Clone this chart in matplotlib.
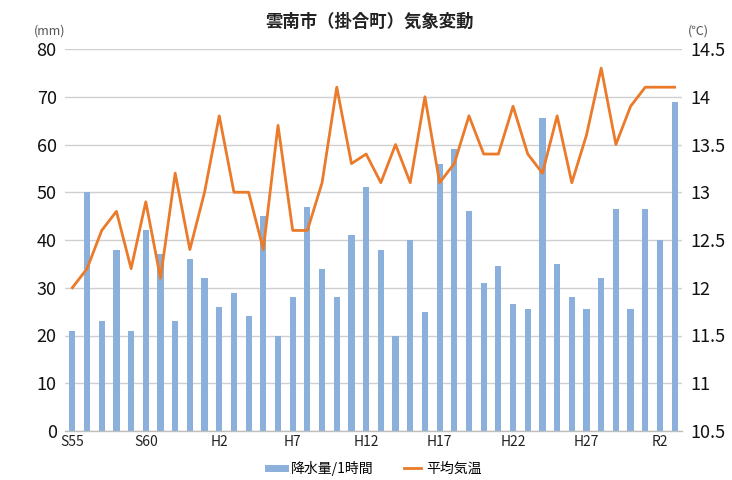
import matplotlib
matplotlib.use("Agg")
import matplotlib.pyplot as plt
from matplotlib.lines import Line2D

plt.rcParams['font.family'] = ['Noto Sans CJK JP', 'DejaVu Sans']

categories = ['S55', 'S56', 'S57', 'S58', 'S59', 'S60', 'S61', 'S62', 'S63', 'H1',
              'H2', 'H3', 'H4', 'H5', 'H6', 'H7', 'H8', 'H9', 'H10', 'H11',
              'H12', 'H13', 'H14', 'H15', 'H16', 'H17', 'H18', 'H19', 'H20', 'H21',
              'H22', 'H23', 'H24', 'H25', 'H26', 'H27', 'H28', 'H29', 'H30', 'R1',
              'R2', 'R3']
tick_labels = ['S55', 'S60', 'H2', 'H7', 'H12', 'H17', 'H22', 'H27', 'R2']

rain = [21, 50, 23, 38, 21, 42, 37, 23, 36, 32,
        26, 29, 24, 45, 20, 28, 47, 34, 28, 41,
        51, 38, 20, 40, 25, 56, 59, 46, 31, 34.5,
        26.5, 25.5, 65.5, 35, 28, 25.5, 32, 46.5, 25.5, 46.5,
        40, 69]
temp = [12.0, 12.2, 12.6, 12.8, 12.2, 12.9, 12.1, 13.2, 12.4, 13.0,
        13.8, 13.0, 13.0, 12.4, 13.7, 12.6, 12.6, 13.1, 14.1, 13.3,
        13.4, 13.1, 13.5, 13.1, 14.0, 13.1, 13.3, 13.8, 13.4, 13.4,
        13.9, 13.4, 13.2, 13.8, 13.1, 13.6, 14.3, 13.5, 13.9, 14.1,
        14.1, 14.1]

bar_color = '#8AB0DB'
line_color = '#EB7A2A'
grid_color = '#D0D0D0'

fig = plt.figure(figsize=(7.32, 4.8), dpi=100)
fig.patch.set_facecolor('white')
W, H = 732, 480
ax = fig.add_axes([65 / W, (H - 431) / H, 617 / W, 382 / H])

x = list(range(len(categories)))
ax.bar(x, rain, width=0.42, color=bar_color, zorder=2)
ax.set_xlim(-0.5, len(categories) - 0.5)
ax.set_ylim(0, 80)
ax.set_yticks(range(0, 81, 10))
ax.grid(axis='y', color=grid_color, linewidth=1, zorder=0)
ax.set_axisbelow(True)
for s in ['top', 'right', 'left']:
    ax.spines[s].set_visible(False)
ax.spines['bottom'].set_color('#BFBFBF')
ax.spines['bottom'].set_linewidth(1)

ax.set_xticks([categories.index(t) for t in tick_labels])
ax.set_xticklabels(tick_labels, fontsize=10, color='#222222')
ax.tick_params(axis='x', length=0, pad=3)
ax.tick_params(axis='y', length=0, pad=6, labelsize=13, labelcolor='#111111')

ax2 = ax.twinx()
ax2.plot(x, temp, color=line_color, linewidth=2.0, zorder=3)
ax2.set_ylim(10.5, 14.5)
ax2.set_yticks([10.5, 11, 11.5, 12, 12.5, 13, 13.5, 14, 14.5])
ax2.set_yticklabels(['10.5', '11', '11.5', '12', '12.5', '13', '13.5', '14', '14.5'])
ax2.tick_params(axis='y', length=0, pad=6, labelsize=13, labelcolor='#111111')
for s in ['top', 'right', 'left', 'bottom']:
    ax2.spines[s].set_visible(False)

fig.text(370 / W, 1 - 22 / H, '雲南市（掛合町）気象変動', ha='center', va='center',
         fontsize=12.5, fontweight='bold', color='#222222')
fig.text(50 / W, 1 - 31 / H, '(mm)', ha='center', va='center', fontsize=9, color='#555555')
fig.text(698 / W, 1 - 31 / H, '(℃)', ha='center', va='center', fontsize=9, color='#555555')

handles = [Line2D([0], [0], color=bar_color, linewidth=5),
           Line2D([0], [0], color=line_color, linewidth=2)]
fig.legend(handles, ['降水量/1時間', '平均気温'], loc='center',
           bbox_to_anchor=(375 / W, 1 - 468 / H), ncol=2, frameon=False,
           fontsize=10, handlelength=1.2, handletextpad=0.4, columnspacing=2.2)

fig.savefig('out.png', dpi=100, facecolor='white')
